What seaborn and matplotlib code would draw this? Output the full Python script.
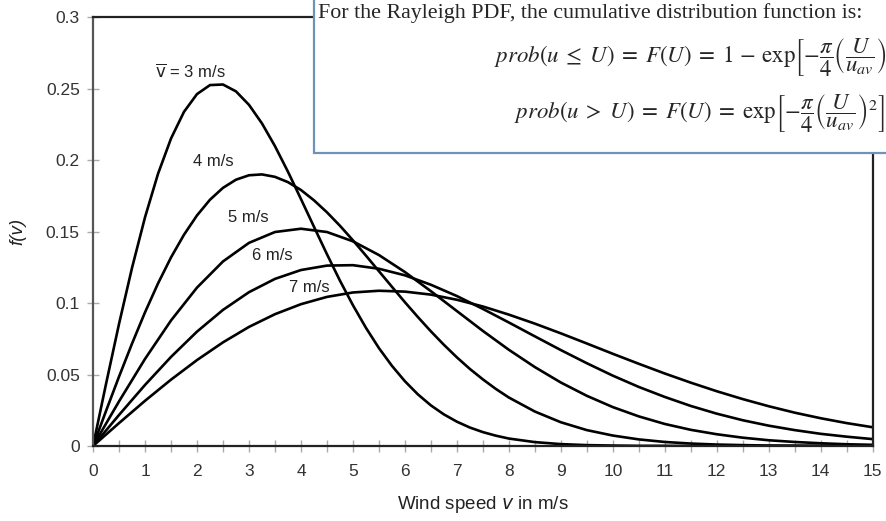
import matplotlib
matplotlib.use("Agg")
import numpy as np
import pandas as pd
import matplotlib.pyplot as plt
import seaborn as sns
from matplotlib.patches import Rectangle

# ------------------------------
# Data
# ------------------------------
# steep curves (3 and 4 m/s) are read at finer steps up to 8 m/s
fine_speed = [0, 0.25, 0.5, 0.75, 1, 1.25, 1.5, 1.75, 2, 2.25, 2.5, 2.75, 3, 3.25,
              3.5, 3.75, 4, 4.25, 4.5, 4.75, 5, 5.25, 5.5, 5.75, 6, 6.25, 6.5, 6.75,
              7, 7.25, 7.5, 7.75, 8, 8.5, 9, 9.5, 10, 10.5, 11, 11.5, 12, 12.5, 13,
              13.5, 14, 14.5, 15]
wind_speed = [0, 0.5, 1, 1.5, 2, 2.5, 3, 3.5, 4, 4.5, 5, 5.5, 6, 6.5, 7, 7.5,
              8, 8.5, 9, 9.5, 10, 10.5, 11, 11.5, 12, 12.5, 13, 13.5, 14, 14.5, 15]

pdf_3 = [0, 0.0434, 0.0854, 0.1246, 0.1600, 0.1904, 0.2151, 0.2338, 0.2462, 0.2525,
         0.2529, 0.2481, 0.2387, 0.2257, 0.2098, 0.1919, 0.1728, 0.1534, 0.1342,
         0.1157, 0.0985, 0.0827, 0.0685, 0.0561, 0.0453, 0.0361, 0.0284, 0.0221,
         0.0170, 0.0129, 0.0097, 0.0072, 0.0052, 0.0027, 0.0013, 0.0006, 0.0003,
         0.0001, 0.0001, 0, 0, 0, 0, 0, 0, 0, 0]
pdf_4 = [0, 0.0245, 0.0485, 0.0716, 0.0935, 0.1137, 0.1319, 0.1478, 0.1613, 0.1723,
         0.1806, 0.1863, 0.1894, 0.1900, 0.1883, 0.1846, 0.1791, 0.1719, 0.1635,
         0.1541, 0.1439, 0.1332, 0.1223, 0.1114, 0.1006, 0.0902, 0.0802, 0.0708,
         0.0620, 0.0539, 0.0466, 0.0399, 0.0339, 0.0241, 0.0166, 0.0111, 0.0073,
         0.0046, 0.0028, 0.0017, 0.0010, 0.0006, 0.0003, 0.0002, 0.0001, 0.0001, 0]
pdf_5 = [0, 0.0312, 0.0609, 0.0878, 0.1108, 0.1291, 0.1421, 0.1497, 0.1520, 0.1497,
         0.1432, 0.1336, 0.1217, 0.1083, 0.0944, 0.0805, 0.0673, 0.0552, 0.0444,
         0.0351, 0.0272, 0.0207, 0.0154, 0.0113, 0.0082, 0.0058, 0.0040, 0.0028,
         0.0019, 0.0012, 0.0008]
pdf_6 = [0, 0.0217, 0.0427, 0.0623, 0.0800, 0.0952, 0.1076, 0.1169, 0.1231, 0.1262,
         0.1265, 0.1240, 0.1194, 0.1128, 0.1049, 0.0959, 0.0864, 0.0767, 0.0671,
         0.0579, 0.0492, 0.0413, 0.0343, 0.0280, 0.0226, 0.0180, 0.0142, 0.0111,
         0.0085, 0.0065, 0.0048]
pdf_7 = [0, 0.0160, 0.0316, 0.0464, 0.0601, 0.0725, 0.0833, 0.0922, 0.0992, 0.1043,
         0.1074, 0.1086, 0.1080, 0.1059, 0.1023, 0.0976, 0.0919, 0.0856, 0.0788,
         0.0717, 0.0645, 0.0575, 0.0507, 0.0443, 0.0383, 0.0328, 0.0278, 0.0233,
         0.0194, 0.0160, 0.0131]

curve_names = ["3 m/s", "4 m/s", "5 m/s", "6 m/s", "7 m/s"]
curve_speeds = [fine_speed, fine_speed, wind_speed, wind_speed, wind_speed]
curve_values = [pdf_3, pdf_4, pdf_5, pdf_6, pdf_7]

label_text = [r"$\overline{\mathsf{v}}$ = 3 m/s", "4 m/s", "5 m/s", "6 m/s", "7 m/s"]
label_x = [1.87, 2.31, 2.98, 3.44, 4.17]
label_y = [0.262, 0.199, 0.160, 0.133, 0.111]

x_ticks = list(range(0, 16))
y_ticks = [0, 0.05, 0.1, 0.15, 0.2, 0.25, 0.3]
y_tick_labels = ["0", "0.05", "0.1", "0.15", "0.2", "0.25", "0.3"]

# long-form table for seaborn
df = pd.DataFrame({
    "speed": [s for sp in curve_speeds for s in sp],
    "pdf": [v for vals in curve_values for v in vals],
    "curve": [n for n, sp in zip(curve_names, curve_speeds) for _ in sp],
})

# ------------------------------
# Plot
# ------------------------------
sns.set_style("white")
plt.rcParams["font.family"] = ["Liberation Sans", "DejaVu Sans"]
plt.rcParams["mathtext.fontset"] = "dejavusans"

fig = plt.figure(figsize=(8.86, 5.21), dpi=100)
ax = fig.add_axes([0.105, 0.144, 0.880, 0.823])

sns.lineplot(data=df, x="speed", y="pdf", hue="curve",
             palette=["black"] * len(curve_names), linewidth=1.9,
             legend=False, ax=ax)

for t, x, y in zip(label_text, label_x, label_y):
    ax.text(x, y, t, ha="center", va="center", fontsize=12, color="#222222")

ax.set_xlim(0, 15)
ax.set_ylim(0, 0.3)
ax.set_xticks(x_ticks)
ax.set_xticks(np.arange(0.5, 15, 1.0), minor=True)
ax.set_yticks(y_ticks)
ax.set_yticklabels(y_tick_labels)

ax.tick_params(axis="both", which="both", bottom=True, left=True,
               colors="#aaaaaa", labelcolor="#333333", labelsize=12.5)
ax.tick_params(axis="x", which="both", direction="inout", length=8, width=1, pad=9)
ax.tick_params(axis="y", direction="inout", length=9, width=1, pad=5)

for side in ["left", "right", "top", "bottom"]:
    ax.spines[side].set_color("#222222")
    ax.spines[side].set_linewidth(1.6)
ax.spines["left"].set_color("#555555")

ax.set_xlabel(r"Wind speed $v$ in m/s", fontsize=13.5, color="#222222", labelpad=11)
ax.set_ylabel("f(v)", fontsize=13.5, color="#222222", style="italic", labelpad=14)

# ------------------------------
# Overlay text box with the CDF formulas (cut off at the right, as in the source)
# ------------------------------
box = Rectangle((314 / 886, 1 - 153 / 521), 0.7, 0.4, transform=fig.transFigure,
                facecolor="white", edgecolor="#6f93b8", linewidth=1.6, zorder=5)
fig.add_artist(box)

fig.text(318 / 886, 1 - 13 / 521,
         "For the Rayleigh PDF, the cumulative distribution function is:",
         family="Liberation Serif", fontsize=15.8, ha="left", va="center", zorder=6)
fig.text(494 / 886, 1 - 58 / 521,
         r"$prob(u \;\leq\; U) \;=\; F(U) \;=\; 1 \,-\, \mathrm{exp}\left[-\dfrac{\pi}{4}\left(\dfrac{U}{u_{av}}\right)^{2}\right]$",
         math_fontfamily="stix", fontsize=16.5, ha="left", va="center", zorder=6)
fig.text(514 / 886, 1 - 114 / 521,
         r"$prob(u \;>\; U) \;=\; F(U) \;=\; \mathrm{exp}\left[-\dfrac{\pi}{4}\left(\dfrac{U}{u_{av}}\right)^{2}\right]$",
         math_fontfamily="stix", fontsize=16.5, ha="left", va="center", zorder=6)

fig.savefig("out.png", dpi=100)
